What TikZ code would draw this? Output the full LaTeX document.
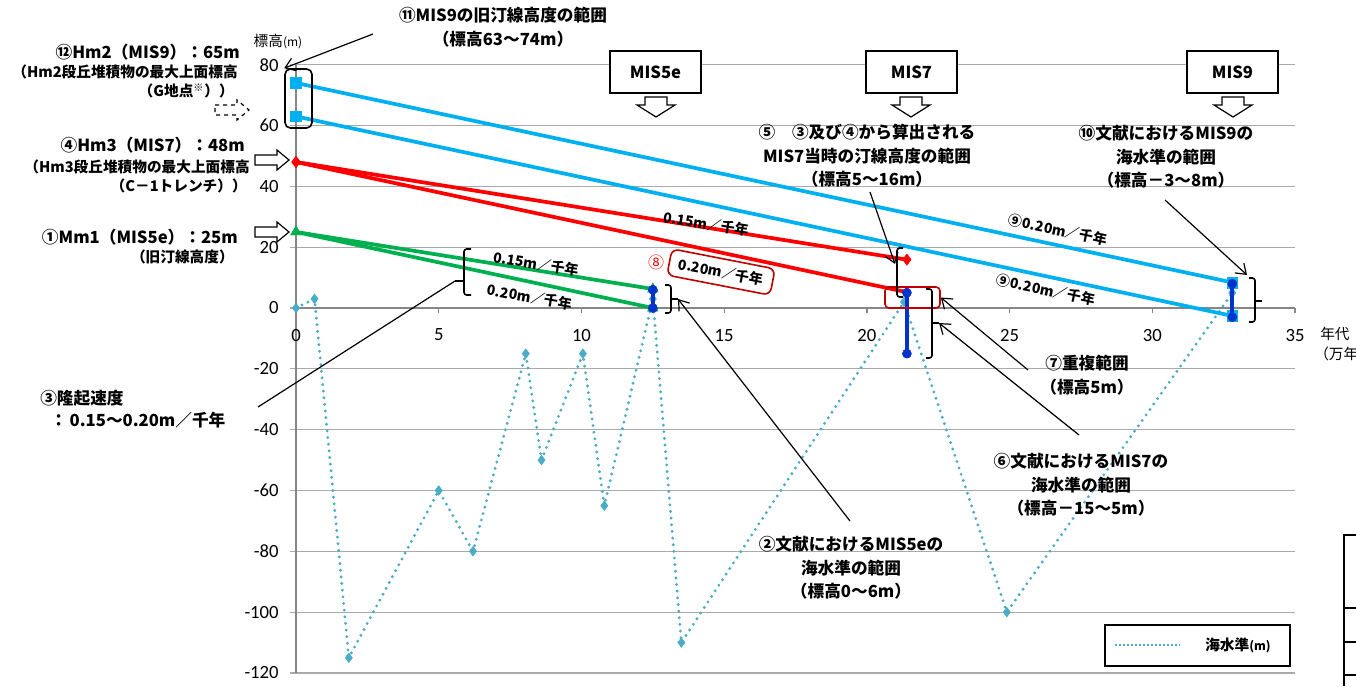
\documentclass[tikz,border=0pt]{standalone}
\usepackage{fontspec}
\setmainfont{Noto Sans CJK JP}
\newfontfamily\numfont{Carlito}
\usetikzlibrary{arrows.meta,plotmarks}

\definecolor{seacol}{RGB}{75,172,198}
\definecolor{mmgreen}{RGB}{0,176,80}
\definecolor{hmred}{RGB}{255,0,0}
\definecolor{hmsky}{RGB}{0,176,240}
\definecolor{rangeblue}{RGB}{0,51,204}
\definecolor{boxred}{RGB}{192,0,0}
\definecolor{gridgray}{RGB}{170,170,170}
\definecolor{axisgray}{RGB}{134,134,134}

\tikzset{
  lbl/.style={font=\bfseries\fontsize{12.5}{15}\selectfont, inner sep=0pt},
  sublbl/.style={font=\bfseries\fontsize{11}{13}\selectfont, inner sep=0pt},
  note/.style={font=\bfseries\fontsize{12.5}{17.6}\selectfont, align=center, inner sep=0pt},
  rate/.style={font=\bfseries\fontsize{10.5}{13}\selectfont, inner sep=1pt},
  ticklbl/.style={font=\numfont\fontsize{14}{16}\selectfont, inner sep=0pt},
  misbox/.style={draw, line width=1pt, fill=white, minimum width=68.25pt, minimum height=31.5pt,
    font=\bfseries\fontsize{12.5}{15}\selectfont},
  gridline/.style={gridgray, line width=0.9pt},
  axisline/.style={axisgray, line width=1pt},
  sealine/.style={seacol, line width=2.4pt, line cap=round, dash pattern=on 0pt off 5pt},
  dataline/.style={line width=2.8pt},
  rangeline/.style={rangeblue, line width=3pt},
  brk/.style={line width=1.2pt, rounded corners=2pt},
  callout/.style={-{Straight Barb[length=7pt,width=10pt]}, line width=0.9pt},
  leader/.style={line width=0.9pt},
  rarrow/.pic={\draw[line width=0.9pt, fill=white] (-17,-5) -- (5,-5) -- (5,-10) -- (17,0) -- (5,10) -- (5,5) -- (-17,5) -- cycle;},
  darrow/.pic={\draw[line width=0.9pt, fill=white] (-11,-10) -- (11,-10) -- (11,-2) -- (19,-2) -- (0,10) -- (-19,-2) -- (-11,-2) -- cycle;}
}

\begin{document}
\begin{tikzpicture}[x=0.75pt, y=-0.75pt]
\useasboundingbox (0,0) rectangle (1356,686);

% chart area, data units: x in 10^4 years, y in m
\begin{scope}[shift={(296,308)}, x=21.41pt, y=2.281pt]
  \foreach \v in {-120,-100,...,80}
    \draw[gridline] (-0.21,\v) -- (35,\v);
  \draw[axisline] (0,-120) -- (0,80);
  \draw[axisline] (0,0) -- (35,0);
  \foreach \t in {0,5,...,35}
    \draw[axisline] (\t,0) -- (\t,-1.8);
  \foreach \v in {-120,-100,...,80}
    \node[ticklbl, anchor=east] at (-0.6,\v) {\v};
  \foreach \t in {0,5,...,35}
    \node[ticklbl] at (\t,-8.9) {\t};

  % sea level
  \draw[sealine] plot[mark=diamond*, mark size=3.6pt, mark options={solid, fill=seacol, line width=0.4pt}]
    coordinates {(0,0) (0.65,3) (1.85,-115) (5,-60) (6.2,-80) (8.05,-15) (8.6,-50)
      (10.05,-15) (10.8,-65) (12.5,3) (13.5,-110) (21.3,2) (24.9,-100) (32.8,5)};

  % uplift lines
  \foreach \e in {6.25,0}
    \draw[dataline, mmgreen] plot[mark=triangle*, mark size=4.5pt, mark options={line width=0.4pt}]
      coordinates {(0,25) (12.5,\e)};
  \foreach \e in {15.9,5.2}
    \draw[dataline, hmred] plot[mark=diamond*, mark size=4.2pt, mark options={line width=0.4pt}]
      coordinates {(0,48) (21.4,\e)};
  \draw[dataline, hmsky] plot[mark=square*, mark size=4pt, mark options={line width=0.4pt}]
    coordinates {(0,74) (32.8,8.4)};
  \draw[dataline, hmsky] plot[mark=square*, mark size=4pt, mark options={line width=0.4pt}]
    coordinates {(0,63) (32.8,-2.6)};

  % sea level ranges from literature
  \draw[rangeline] plot[mark=*, mark size=3.4pt, mark options={line width=0.4pt}]
    coordinates {(12.5,0) (12.5,6)};
  \draw[rangeline] plot[mark=*, mark size=3.4pt, mark options={line width=0.4pt}]
    coordinates {(21.4,5) (21.4,-15)};
  \draw[rangeline] plot[mark=*, mark size=3.4pt, mark options={line width=0.4pt}]
    coordinates {(32.8,8) (32.8,-3)};
\end{scope}

% axis titles
\node[inner sep=0pt] (ytitle) at (278,42) {{\fontsize{11}{13}\selectfont 標高}{\fontsize{9}{11}\selectfont (m)}};
\node[inner sep=0pt, anchor=west, font=\fontsize{11}{13}\selectfont] (xtitle) at (1320,334) {年代};
\node[inner sep=0pt, anchor=west, font=\fontsize{11}{13}\selectfont] (xunit) at (1314,354) {（万年）};

% MIS boxes
\node[misbox] (m5e) at (655.5,72) {MIS5e};
\node[misbox] (m7) at (911.5,72) {MIS7};
\node[misbox] (m9) at (1232.5,72) {MIS9};
\pic at (656,107) {darrow};
\pic at (911,107) {darrow};
\pic at (1233,107) {darrow};

% terrace heights on the left
\node[lbl, anchor=east] (t12a) at (240,52) {⑫Hm2（MIS9）：65m};
\node[sublbl, anchor=east] (t12b) at (238,72) {（Hm2段丘堆積物の最大上面標高};
\node[sublbl, anchor=east] (t12c) at (234,91) {（G地点\textsuperscript{※}））};
\node[lbl, anchor=east] (t4a) at (245,145) {④Hm3（MIS7）：48m};
\node[sublbl, anchor=east] (t4b) at (250,167) {（Hm3段丘堆積物の最大上面標高};
\node[sublbl, anchor=east] (t4c) at (247,186) {（C－1トレンチ））};
\node[lbl, anchor=east] (t1a) at (238,237) {①Mm1（MIS5e）：25m};
\node[sublbl, anchor=east] (t1b) at (234,257) {（旧汀線高度）};
\pic[dashed] at (232,110) {rarrow};
\pic at (272,160) {rarrow};
\pic at (272,232) {rarrow};

\node[lbl, anchor=west] (t3a) at (40,398) {③隆起速度};
\node[lbl, anchor=west] (t3b) at (50,420) {：\,0.15～0.20m／千年};

% rate labels
\node[rate, rotate=-9] (r15a) at (536,264) {0.15m／千年};
\node[rate, rotate=-10] (r20a) at (530,297) {0.20m／千年};
\node[rate, text=hmred, font=\fontsize{12}{14}\selectfont] (n8) at (656,262) {⑧};
\node[rate, draw=boxred, line width=1.2pt, rounded corners=5pt, rotate=-11,
  inner xsep=7pt, inner ysep=5pt] (r20b) at (721,272) {0.20m／千年};
\node[rate, rotate=-9] (r15b) at (706,224) {0.15m／千年};
\node[rate, rotate=-12] (r9a) at (1058,230) {⑨0.20m／千年};
\node[rate, rotate=-12] (r9b) at (1046,290) {⑨0.20m／千年};

% notes
\node[note] (t11) at (503,27) {⑪MIS9の旧汀線高度の範囲\\（標高63～74m）};
\node[note] (t5) at (867,156) {⑤　③及び④から算出される\\MIS7当時の汀線高度の範囲\\（標高5～16m）};
\node[note] (t10) at (1166,157) {⑩文献におけるMIS9の\\海水準の範囲\\（標高－3～8m）};
\node[note] (t7) at (1087,375) {⑦重複範囲\\（標高5m）};
\node[note] (t6) at (1081,485) {⑥文献におけるMIS7の\\海水準の範囲\\（標高－15～5m）};
\node[note] (t2) at (851,568) {②文献におけるMIS5eの\\海水準の範囲\\（標高0～6m）};

% frames and brackets
\node[draw, line width=1.2pt, rounded corners=4pt, minimum width=20.25pt, minimum height=44.25pt,
  inner sep=0pt] (bx11) at (298.5,98.5) {};
\node[draw=boxred, line width=1.2pt, rounded corners=3pt, minimum width=41.25pt, minimum height=15.75pt,
  inner sep=0pt] (ovl) at (912.5,297.5) {};

\draw[brk] (471,249) -| (464,295) -- (471,295);
\draw[brk] (464,281) -- (455,281) coordinate (brA);
\draw[brk] (665,285) -| (671,313) -- (665,313);
\draw[brk] (671,299) -- (678,299) coordinate (brB);
\draw[brk] (903,248) -| (897,297) -- (903,297);
\coordinate (brC) at (895,264);
\draw[brk] (926,289) -| (932,358) -- (926,358);
\draw[brk] (932,323) -- (939,323) coordinate (brD);
\draw[brk] (1249,278) -| (1255,322) -- (1249,322);
\draw[brk] (1255,301) -- (1262,301);
\coordinate (brE) at (1247,275);

% callouts
\coordinate (c11) at (373,34);
\coordinate (c3) at (258,407);
\coordinate (c2) at (850,521);
\coordinate (c5) at (870,192);
\coordinate (c7) at (1028,370);
\coordinate (c6) at (1079,435);
\coordinate (c10) at (1165,200);
\draw[callout] (c11) -- (bx11.north west);
\draw[leader] (c3) -- (brA);
\draw[callout] (c2) -- (brB);
\draw[callout] (c5) -- (brC);
\draw[callout] (c7) -- (ovl.east);
\draw[callout] (c6) -- (brD);
\draw[callout] (c10) -- (brE);

% legend
\node[draw, line width=1.2pt, minimum width=138.75pt, minimum height=30.75pt, inner sep=0pt] (leg) at (1197.5,645.5) {};
\draw[seacol, line width=1.5pt, dash pattern=on 1.5pt off 1.5pt] (1115,645) -- (1180,645);
\node[sublbl] (legtxt) at (1238,645) {海水準{\fontsize{9}{11}\selectfont (m)}};

% edge of neighbouring table
\draw[line width=1.5pt] (1356,535) -- (1344,535) -- (1344,686);
\draw[line width=1pt] (1344,608) -- (1356,608);
\draw[line width=1pt] (1344,642) -- (1356,642);
\draw[line width=1pt] (1344,675) -- (1356,675);
\end{tikzpicture}
\end{document}
